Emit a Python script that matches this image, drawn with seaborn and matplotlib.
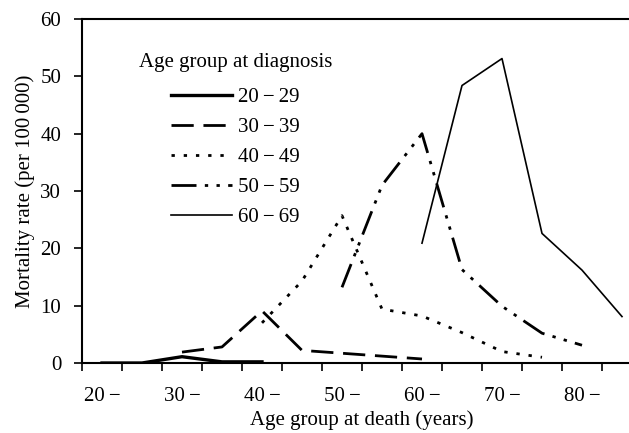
import matplotlib
matplotlib.use("Agg")
import matplotlib.pyplot as plt
from matplotlib.ticker import FixedLocator
import pandas as pd
import seaborn as sns

death_groups = ["20", "25", "30", "35", "40", "45", "50", "55", "60", "65", "70", "75", "80", "85"]

diag_labels = ["20\u2009\u2212\u200929", "30\u2009\u2212\u200939", "40\u2009\u2212\u200949",
               "50\u2009\u2212\u200959", "60\u2009\u2212\u200969"]

# values per diagnosis group, starting at death group index in `starts`
rate_20_29 = [0, 0, 1.1, 0.2, 0.2]
rate_30_39 = [1.9, 2.8, 9.1, 2.2, 1.7, 1.2, 0.7]
rate_40_49 = [7.0, 14.3, 25.7, 9.4, 8.2, 5.3, 2.0, 1.0]
rate_50_59 = [13.2, 31.0, 40.0, 16.3, 9.9, 5.2, 3.1]
rate_60_69 = [20.9, 48.4, 53.1, 22.6, 16.2, 8.1]
starts = [0, 2, 4, 6, 8]

series = [rate_20_29, rate_30_39, rate_40_49, rate_50_59, rate_60_69]
styles = [
    dict(lw=2.4, dashes=None),
    dict(lw=2.0, dashes=(8, 3.5)),
    dict(lw=2.0, dashes=(1.2, 3.2)),
    dict(lw=2.0, dashes=(9, 3, 1.2, 3, 1.2, 3)),
    dict(lw=1.2, dashes=None),
]

plt.rcParams["font.family"] = ["Liberation Serif", "DejaVu Serif"]
plt.rcParams["font.size"] = 15

fig = plt.figure(figsize=(6.29, 4.33), dpi=100)
ax = fig.add_axes([82 / 629, 70 / 433, (642 - 82) / 629, 344 / 433])

for label, vals, s0, st in zip(diag_labels, series, starts, styles):
    df = pd.DataFrame({"x": list(range(s0, s0 + len(vals))), "y": vals})
    sns.lineplot(data=df, x="x", y="y", ax=ax, color="black",
                 linewidth=st["lw"], label=label)
    if st["dashes"] is not None:
        ax.get_lines()[-1].set_dashes(st["dashes"])

ax.set_xlim(-0.5, 13.5)
ax.set_ylim(0, 60)
ax.set_yticks(range(0, 61, 10))
ax.set_xticks(range(0, 14, 2))
ax.set_xticklabels([g + "\u2009\u2212" for g in death_groups[::2]])
ax.xaxis.set_minor_locator(FixedLocator([i + 0.5 for i in range(-1, 14)]))
ax.tick_params(axis="x", which="major", length=0, pad=17)
ax.tick_params(axis="x", which="minor", length=6, width=1.2, direction="out")
ax.tick_params(axis="y", length=6, width=1.2, direction="out", pad=9)

for sp in ["left", "bottom", "top"]:
    ax.spines[sp].set_linewidth(1.5)
ax.spines["right"].set_visible(False)

ax.set_xlabel("Age group at death (years)", labelpad=3)
ax.set_ylabel("Mortality rate (per 100\u2009000)", labelpad=4)

leg = ax.legend(title="Age group at diagnosis", frameon=False, loc="upper left",
                bbox_to_anchor=(0.068, 0.955), handlelength=2.9,
                labelspacing=0.5, handletextpad=0.3)
leg._legend_box.sep = 11
for h, st in zip(leg.get_lines(), styles):
    h.set_linewidth(st["lw"])
    if st["dashes"] is not None:
        h.set_dashes(st["dashes"])

fig.savefig("out.png", dpi=100)
